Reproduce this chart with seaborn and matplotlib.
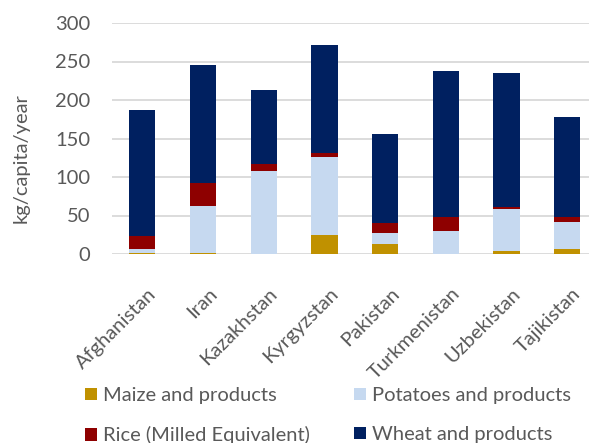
import matplotlib
matplotlib.use("Agg")
import matplotlib.pyplot as plt
import matplotlib.transforms as mtrans
from matplotlib.patches import Patch
import seaborn as sns
import pandas as pd

# Per-capita supply of staple foods (kg/capita/year)
countries = ["Afghanistan", "Iran", "Kazakhstan", "Kyrgyzstan",
             "Pakistan", "Turkmenistan", "Uzbekistan", "Tajikistan"]
maize = [1, 1, 0.5, 25, 13, 0.5, 4, 7]
potatoes = [6, 61, 107, 101, 14, 30, 54, 34]
rice = [17, 30, 9, 5, 13, 17, 3, 7]
wheat = [163, 154, 96, 140, 116, 190, 174, 130]

series_names = ["Maize and products", "Potatoes and products",
                "Rice (Milled Equivalent)", "Wheat and products"]
series_colors = ["#C09100", "#C6D9F0", "#8E0000", "#002060"]

df = pd.DataFrame({"country": countries, "maize": maize,
                   "potatoes": potatoes, "rice": rice, "wheat": wheat})
# cumulative heights for stacking
df["c_maize"] = df["maize"]
df["c_potatoes"] = df["c_maize"] + df["potatoes"]
df["c_rice"] = df["c_potatoes"] + df["rice"]
df["c_wheat"] = df["c_rice"] + df["wheat"]

sns.set_theme(style="white")
plt.rcParams["font.family"] = ["Lato", "DejaVu Sans"]
text_color = "#595959"
fs = 14.5

W, H, DPI = 589, 443, 100
fig = plt.figure(figsize=(W / DPI, H / DPI), dpi=DPI)
ax = fig.add_axes([112 / W, 189 / H, 477 / W, 231 / H])

bar_w = 0.433
for col, color in zip(["c_wheat", "c_rice", "c_potatoes", "c_maize"],
                      series_colors[::-1]):
    sns.barplot(data=df, x="country", y=col, color=color, width=bar_w,
                order=countries, ax=ax, saturation=1, zorder=3,
                edgecolor="none", linewidth=0)

# legend in reading order (two columns)
leg_handles = [Patch(facecolor=c, edgecolor="none") for c in series_colors]
order = [0, 2, 1, 3]
fig.legend([leg_handles[i] for i in order],
           [series_names[i] for i in order],
           ncol=2, loc="upper left",
           bbox_to_anchor=(85 / W, 1 - 387 / H),
           frameon=False, fontsize=fs,
           handlelength=0.6, handleheight=0.6,
           handletextpad=0.3, columnspacing=2.2,
           labelspacing=1.1, borderpad=0, borderaxespad=0,
           labelcolor=text_color)

ax.set_xlim(-0.5, 7.358)
ax.set_ylim(0, 300)
ax.set_yticks([0, 50, 100, 150, 200, 250, 300])
ax.yaxis.grid(True, color="#D9D9D9", linewidth=1.3, zorder=0)
ax.xaxis.grid(False)
for s in ax.spines.values():
    s.set_visible(False)

ax.tick_params(axis="y", length=0, pad=15.5, labelsize=fs,
               labelcolor=text_color)
ax.tick_params(axis="x", length=0, pad=0, labelsize=fs,
               labelcolor=text_color)
ax.set_xlabel("")
ax.set_ylabel("kg/capita/year", fontsize=fs, color=text_color)
ax.yaxis.set_label_coords(-82 / 477, (254 - 158) / 231)

offset = mtrans.ScaledTranslation(5 / DPI, -31 / DPI, fig.dpi_scale_trans)
for lbl in ax.get_xticklabels():
    lbl.set_rotation(45)
    lbl.set_ha("right")
    lbl.set_va("top")
    lbl.set_rotation_mode("anchor")
    lbl.set_transform(lbl.get_transform() + offset)

fig.savefig("out.png", dpi=DPI, facecolor="white")
